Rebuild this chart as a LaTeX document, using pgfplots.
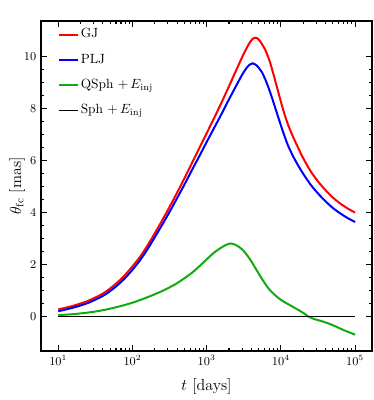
\documentclass[border=0pt]{standalone}
\usepackage{pgfplots}
\pgfplotsset{compat=1.18}
\definecolor{gj}{rgb}{1,0,0}
\definecolor{plj}{rgb}{0,0,1}
\definecolor{qsph}{HTML}{11AA11}

\pgfplotstableread{
t v
10 0.27
15.85 0.41
25.12 0.60
39.81 0.88
50.12 1.08
63.10 1.32
79.43 1.60
100 1.93
125.9 2.29
158.5 2.72
199.5 3.20
251.2 3.70
316.2 4.22
398.1 4.76
501.2 5.32
631.0 5.90
794.3 6.48
1000 7.06
1259 7.64
1585 8.24
1995 8.86
2512 9.50
3162 10.12
3631 10.45
3981 10.63
4365 10.73
4786 10.72
5248 10.60
5754 10.42
6310 10.20
7079 9.82
7943 9.33
8913 8.80
10000 8.27
11220 7.78
12589 7.36
14791 6.88
17378 6.45
19953 6.10
25119 5.60
31623 5.20
39811 4.87
50119 4.58
63096 4.35
79433 4.16
100000 4.00
}\gjdata

\pgfplotstableread{
t v
10 0.20
15.85 0.34
25.12 0.52
39.81 0.79
50.12 0.98
63.10 1.21
79.43 1.48
100 1.80
125.9 2.16
158.5 2.58
199.5 3.05
251.2 3.53
316.2 4.03
398.1 4.55
501.2 5.08
631.0 5.63
794.3 6.17
1000 6.72
1259 7.26
1585 7.80
1995 8.36
2512 8.90
3020 9.32
3467 9.58
3802 9.70
4169 9.75
4571 9.70
5012 9.58
5623 9.38
6310 9.06
7079 8.68
7943 8.25
8913 7.80
10000 7.36
11220 6.94
12589 6.56
14791 6.14
17378 5.78
19953 5.50
25119 5.08
31623 4.74
39811 4.44
50119 4.18
63096 3.97
79433 3.79
100000 3.64
}\pljdata

\pgfplotstableread{
t v
10 0.05
15.85 0.09
25.12 0.15
39.81 0.24
63.10 0.37
100 0.53
158.5 0.74
251.2 0.98
398.1 1.28
631.0 1.68
794.3 1.93
1000 2.20
1259 2.46
1585 2.66
1862 2.77
2138 2.81
2399 2.77
2754 2.67
3162 2.52
3802 2.22
4677 1.80
5754 1.38
7079 1.02
8511 0.80
10000 0.64
12589 0.47
15849 0.31
19953 0.14
23442 0.00
28184 -0.10
35481 -0.18
44668 -0.28
56234 -0.40
70795 -0.53
100000 -0.70
}\qsphdata

\begin{document}
\begin{tikzpicture}
\useasboundingbox (-30.75pt,-36.75pt) rectangle (249.75pt,263.25pt);
\begin{axis}[
at={(0pt,0pt)},anchor=south west,
scale only axis,width=248.25pt,height=247.5pt,
xmode=log,xmin=5.85,xmax=1.69e5,
ymin=-1.33,ymax=11.38,
ytick={0,2,4,6,8,10},minor y tick num=3,
xtick={10,100,1000,10000,100000},
tick align=inside,
major tick length=4.3pt,minor tick length=2.6pt,
every tick/.style={line width=0.8pt,black},
axis line style={line width=1.1pt},
tick label style={font=\fontsize{9}{10}\selectfont},
label style={font=\fontsize{12}{14}\selectfont},
xlabel={$t$ [days]},
ylabel={$\theta_{\rm fc}$ [mas]},
xlabel style={at={(axis description cs:0.5,-0.109)},anchor=center},
ylabel style={at={(axis description cs:-0.0725,0.5)},anchor=center},
legend style={at={(axis description cs:0.05,0.984)},anchor=north west,
  draw=none,fill=none,inner sep=0pt,row sep=7pt,
  font=\fontsize{10}{12}\selectfont,
  nodes={inner sep=1.5pt,text height=7pt,text depth=2pt}},
legend cell align=left,
legend image code/.code={\draw[#1] (0pt,0pt) -- (14.25pt,0pt);},
]
\addplot[gj,line width=1.5pt,smooth] table[x=t,y=v] {\gjdata};
\addlegendentry{GJ}
\addplot[plj,line width=1.5pt,smooth] table[x=t,y=v] {\pljdata};
\addlegendentry{PLJ}
\addplot[qsph,line width=1.5pt,smooth] table[x=t,y=v] {\qsphdata};
\addlegendentry{QSph $+\,E_{\rm inj}$}
\addplot[black,line width=1pt] coordinates {(10,0) (100000,0)};
\addlegendentry{Sph $+\,E_{\rm inj}$}
\end{axis}
\end{tikzpicture}
\end{document}
